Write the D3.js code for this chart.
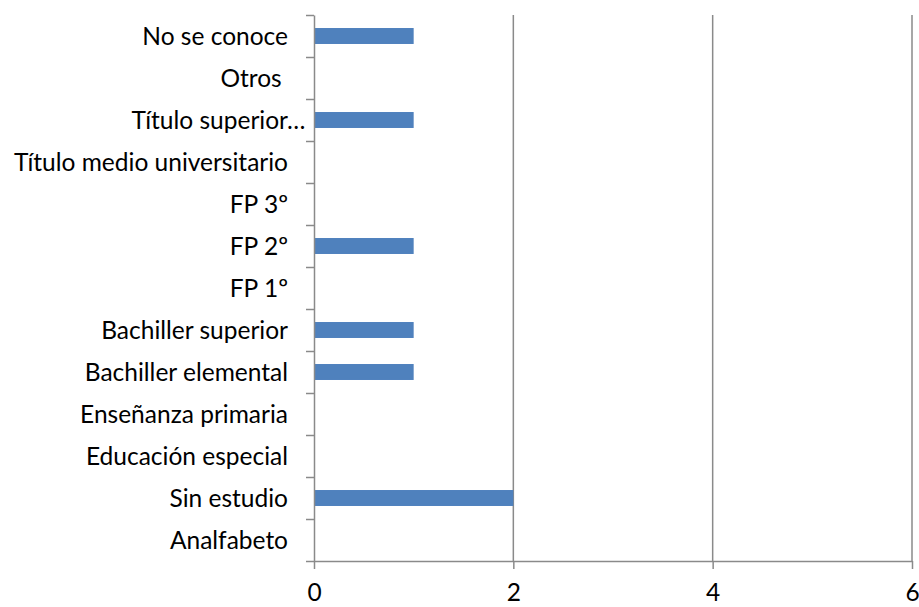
<!DOCTYPE html>
<html>
<head>
<meta charset="utf-8">
<script src="https://cdnjs.cloudflare.com/ajax/libs/d3/7.8.5/d3.min.js"></script>
<style>
	body { margin: 0; background: #fff; }
	svg text { font-family: Lato, "Noto Sans", sans-serif; fill: #000; }
</style>
</head>
<body>
<svg id="chart" width="919" height="607"></svg>
<script>
"use strict";

// categories from top to bottom, as in the picture
var categories = [
	'No se conoce',
	'Otros ',
	'Título superior…',
	'Título medio universitario',
	'FP 3º',
	'FP 2º',
	'FP 1º',
	'Bachiller superior',
	'Bachiller elemental',
	'Enseñanza primaria',
	'Educación especial',
	'Sin estudio',
	'Analfabeto'
];
var values = [1, 0, 1, 0, 0, 1, 0, 1, 1, 0, 0, 2, 0];
var xTicks = [0, 2, 4, 6];

var colors = {
	bar: '#4f81bd',
	grid: '#8a8a8a'
};

var fontSize = '24.5px';
var margin = { top: 15, right: 7, bottom: 46, left: 314 };
var width = 919 - margin.left - margin.right;
var height = 607 - margin.top - margin.bottom;

var svg = d3.select('#chart');
var g = svg.append('g').attr('transform', 'translate(' + margin.left + ',' + margin.top + ')');

var x = d3.scaleLinear().domain([0, 6]).range([0, width]);
var y = d3.scaleBand().domain(categories).range([0, height]).paddingInner(0.62).paddingOuter(0.31);
// boundaries between categories, for the tick marks
var yEdge = d3.scaleLinear().domain([0, categories.length]).range([0, height]);

// vertical gridlines
g.append('g')
	.selectAll('line')
	.data(xTicks.slice(1))
	.enter().append('line')
	.attr('x1', function(d) { return x(d); })
	.attr('x2', function(d) { return x(d); })
	.attr('y1', 0)
	.attr('y2', height)
	.attr('stroke', colors.grid)
	.attr('stroke-width', 1.5);

// bars
g.append('g')
	.selectAll('rect')
	.data(values)
	.enter().append('rect')
	.attr('x', x(0))
	.attr('y', function(d, i) { return y(categories[i]); })
	.attr('width', function(d) { return x(d) - x(0); })
	.attr('height', y.bandwidth())
	.attr('fill', colors.bar);

// x axis
var xAxis = g.append('g')
	.attr('transform', 'translate(0,' + height + ')')
	.call(d3.axisBottom(x).tickValues(xTicks).tickFormat(d3.format('d')).tickSize(8).tickPadding(15).tickSizeOuter(0));
xAxis.select('.domain').attr('stroke', colors.grid).attr('stroke-width', 1.5);
xAxis.selectAll('.tick line').attr('stroke', colors.grid).attr('stroke-width', 1.5);
xAxis.selectAll('.tick text').style('font-size', fontSize).style('font-family', 'Lato, sans-serif');

// y axis ticks at category edges
var yAxis = g.append('g')
	.call(d3.axisLeft(yEdge).tickValues(d3.range(0, categories.length + 1)).tickSize(8).tickFormat('').tickSizeOuter(0));
yAxis.select('.domain').attr('stroke', colors.grid).attr('stroke-width', 1.5);
yAxis.selectAll('.tick line').attr('stroke', colors.grid).attr('stroke-width', 1.5);

// category labels
g.append('g')
	.selectAll('text')
	.data(categories)
	.enter().append('text')
	.attr('x', -26)
	.attr('y', function(d) { return y(d) + y.bandwidth() / 2; })
	.attr('dy', '0.35em')
	.attr('text-anchor', 'end')
	.style('font-size', fontSize)
	.style('white-space', 'pre')
	.text(function(d) { return d; })
	.each(function(d) {
		// Excel lets the ellipsis hang past the normal label edge
		if (d.slice(-1) === '…') {
			var t = d3.select(this);
			t.text(d.slice(0, -1));
			var w = this.getComputedTextLength();
			t.text(d);
			var w2 = this.getComputedTextLength();
			t.attr('x', -26 + (w2 - w));
		}
	});
</script>
</body>
</html>
